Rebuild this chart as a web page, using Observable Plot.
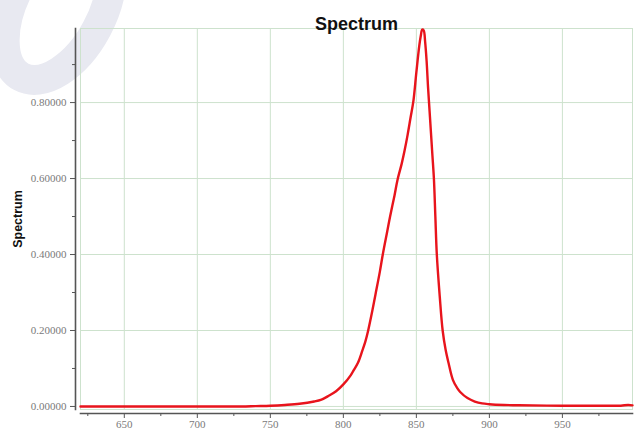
<!DOCTYPE html>
<html>
<head>
<meta charset="utf-8">
<script src="https://cdn.jsdelivr.net/npm/d3@7"></script>
<script src="https://cdn.jsdelivr.net/npm/@observablehq/plot@0.6"></script>
<style>
  html, body { margin: 0; padding: 0; background: #fff; }
  #wrap { position: relative; width: 634px; height: 436px; overflow: hidden; }
  #wm { position: absolute; left: 0; top: 0; pointer-events: none; }
  #chart { position: absolute; left: 0; top: 0; }
</style>
</head>
<body>
<div id="wrap">
  <svg id="wm" width="160" height="130" viewBox="0 0 160 130">
    <ellipse cx="58" cy="8" rx="44" ry="78" transform="rotate(28 58 8)" fill="none" stroke="#e8e9f1" stroke-width="30"/>
  </svg>
  <div id="chart"></div>
</div>
<script>
const titleText = "Spectrum";
const yLabel = "Spectrum";
const wavelengths = [620, 650, 700, 730, 740, 750, 760, 770, 780, 785, 790, 795, 800, 805, 807, 810, 813, 815, 817, 820, 822, 825, 827, 830, 832, 835, 837, 840, 842, 844, 846, 848, 850, 852, 853, 854, 855, 856, 857, 858, 859, 860, 861, 862, 863, 864, 866, 868, 870, 872, 875, 878, 880, 885, 890, 895, 900, 910, 920, 950, 980, 990, 995, 998];
const intensity = [0.000, 0.000, 0.000, 0.000, 0.001, 0.002, 0.004, 0.007, 0.013, 0.018, 0.028, 0.040, 0.058, 0.082, 0.095, 0.115, 0.147, 0.170, 0.200, 0.255, 0.295, 0.355, 0.400, 0.460, 0.500, 0.555, 0.595, 0.640, 0.675, 0.715, 0.760, 0.805, 0.880, 0.950, 0.975, 0.992, 0.990, 0.960, 0.910, 0.840, 0.780, 0.720, 0.660, 0.600, 0.500, 0.400, 0.290, 0.200, 0.150, 0.115, 0.070, 0.048, 0.038, 0.022, 0.013, 0.008, 0.006, 0.004, 0.003, 0.002, 0.002, 0.002, 0.004, 0.003];
const xTicks = [650, 700, 750, 800, 850, 900, 950];
const xMinor = [625, 675, 725, 775, 825, 875, 925, 975];
const yTicks = [0, 0.2, 0.4, 0.6, 0.8];
const yMinor = [0.1, 0.3, 0.5, 0.7, 0.9];

const data = wavelengths.map((w, i) => ({w, v: intensity[i]}));
const gridColor = "#cde2cd";
const axisColor = "#555";
const labelColor = "#7a7a7a";

const chart = Plot.plot({
  width: 634, height: 436,
  marginLeft: 80, marginRight: 2, marginTop: 28, marginBottom: 27,
  x: {domain: [620, 998]},
  y: {domain: [-0.008, 0.995]},
  style: {background: "transparent", fontFamily: "'Liberation Serif', serif", overflow: "visible"},
  marks: [
    Plot.gridX(xTicks, {stroke: gridColor, strokeOpacity: 1}),
    Plot.gridY(yTicks, {stroke: gridColor, strokeOpacity: 1}),
    Plot.frame({stroke: gridColor}),
    Plot.frame({anchor: "left", insetLeft: -5, stroke: axisColor, strokeWidth: 1.6}),
    Plot.frame({anchor: "bottom", insetBottom: -4, stroke: axisColor, strokeWidth: 1.6}),
    Plot.axisX(xTicks, {dy: 4, tickSize: 5, tickPadding: 2, stroke: axisColor, fill: labelColor, fontSize: 11, label: null}),
    Plot.axisX(xMinor, {dy: 4, tickSize: 3, text: null, stroke: axisColor, label: null}),
    Plot.axisY(yTicks, {dx: -5, tickSize: 5, tickPadding: 4, stroke: axisColor, fill: labelColor, fontSize: 11, tickFormat: d3.format(".5f"), label: null}),
    Plot.axisY(yMinor, {dx: -5, tickSize: 3, text: null, stroke: axisColor, label: null}),
    Plot.line(data, {x: "w", y: "v", stroke: "#e8141c", strokeWidth: 2.4, curve: "catmull-rom"}),
    Plot.text([titleText], {frameAnchor: "top", dy: -11, fontWeight: "bold", fontSize: 18, fontFamily: "'Liberation Sans', Arial, sans-serif", fill: "#111"}),
    Plot.text([yLabel], {frameAnchor: "left", dx: -63, rotate: -90, textAnchor: "middle", lineAnchor: "middle", fontWeight: "bold", fontSize: 12.5, fontFamily: "'Liberation Sans', Arial, sans-serif", fill: "#111"})
  ]
});
document.getElementById("chart").appendChild(chart);
</script>
</body>
</html>
